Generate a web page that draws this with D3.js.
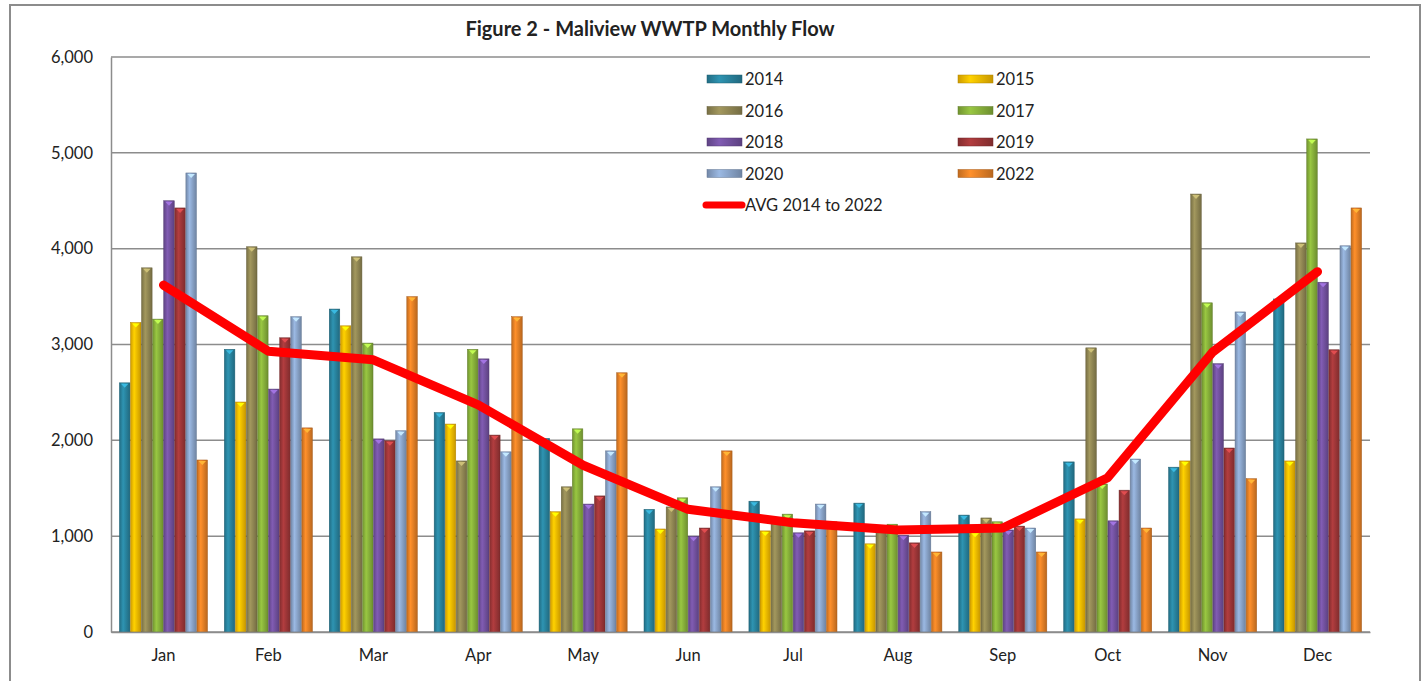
<!DOCTYPE html>
<html>
<head>
<meta charset="utf-8">
<script src="https://cdn.jsdelivr.net/npm/d3@7"></script>
<style>
  body { margin: 0; background: #fff; }
  svg text { font-family: Lato, "Open Sans", sans-serif; fill: #222; }
</style>
</head>
<body>
<div id="chart"></div>
<script>
// data
var months = ["Jan", "Feb", "Mar", "Apr", "May", "Jun", "Jul", "Aug", "Sep", "Oct", "Nov", "Dec"];
var years = ["2014", "2015", "2016", "2017", "2018", "2019", "2020", "2022"];
var flow2014 = [2600, 2950, 3370, 2290, 2020, 1280, 1365, 1345, 1220, 1775, 1720, 3475];
var flow2015 = [3230, 2400, 3195, 2170, 1255, 1075, 1055, 920, 1040, 1180, 1785, 1785];
var flow2016 = [3800, 4020, 3915, 1785, 1515, 1305, 1180, 1100, 1190, 2965, 4570, 4060];
var flow2017 = [3265, 3300, 3015, 2950, 2120, 1400, 1230, 1125, 1150, 1545, 3435, 5145];
var flow2018 = [4500, 2535, 2015, 2850, 1335, 1000, 1035, 1010, 1065, 1160, 2800, 3650];
var flow2019 = [4425, 3070, 1995, 2055, 1420, 1085, 1055, 930, 1105, 1480, 1920, 2945];
var flow2020 = [4790, 3290, 2100, 1880, 1890, 1515, 1335, 1255, 1085, 1805, 3340, 4030];
var flow2022 = [1795, 2130, 3500, 3290, 2705, 1890, 1150, 835, 835, 1085, 1600, 4425];
var avgFlow = [3620, 2930, 2840, 2370, 1740, 1280, 1140, 1065, 1085, 1610, 2920, 3760];
var yTicks = [0, 1000, 2000, 3000, 4000, 5000, 6000];

var series = [flow2014, flow2015, flow2016, flow2017, flow2018, flow2019, flow2020, flow2022];
var colors = ["#2A87A3", "#FFC000", "#958B56", "#8CB63C", "#7654A4", "#A3383A", "#8EA9D0", "#EE8427"];

var W = 1426, H = 681;
var margin = {top: 57, right: 56, bottom: 49, left: 111},
    width = W - margin.left - margin.right,
    height = H - margin.top - margin.bottom;

var svg = d3.select("#chart")
  .append("svg")
    .attr("width", W)
    .attr("height", H);

// outer frame of the chart
svg.append("path")
  .attr("d", "M10,681 V5 H1420 V681")
  .attr("fill", "none")
  .attr("stroke", "#8c8c8c")
  .attr("stroke-width", 2);

// gradients to give the bars a rounded look
var defs = svg.append("defs");
colors.forEach(function (c, i) {
  var g = defs.append("linearGradient")
    .attr("id", "grad" + i)
    .attr("x1", "0%").attr("x2", "100%").attr("y1", "0%").attr("y2", "0%");
  g.append("stop").attr("offset", "0%").attr("stop-color", d3.color(c).darker(0.6));
  g.append("stop").attr("offset", "35%").attr("stop-color", d3.color(c).brighter(0.25));
  g.append("stop").attr("offset", "100%").attr("stop-color", d3.color(c).darker(0.7));
});

var chart = svg.append("g")
  .attr("transform", "translate(" + margin.left + "," + margin.top + ")");

// title
svg.append("text")
  .attr("x", 650)
  .attr("y", 36)
  .attr("text-anchor", "middle")
  .style("font-size", "20px")
  .style("font-weight", "bold")
  .text("Figure 2 - Maliview WWTP Monthly Flow");

// scales
var x0 = d3.scaleBand()
  .domain(months)
  .range([0, width])
  .paddingInner(0.15)
  .paddingOuter(0.075);

var x1 = d3.scaleBand()
  .domain(years)
  .range([0, x0.bandwidth()])
  .padding(0.05);

var y = d3.scaleLinear()
  .domain([0, 6000])
  .range([height, 0]);

// gridlines
chart.append("g")
  .selectAll("line")
  .data(yTicks)
  .enter()
  .append("line")
    .attr("x1", 0)
    .attr("x2", width)
    .attr("y1", function (d) { return y(d); })
    .attr("y2", function (d) { return y(d); })
    .attr("stroke", "#8c8c8c")
    .attr("stroke-width", 1.5);

// Y axis
var yAxis = chart.append("g")
  .call(d3.axisLeft(y).tickValues(yTicks).tickSize(0).tickPadding(18).tickFormat(d3.format(",")));
yAxis.select(".domain").attr("stroke", "#8c8c8c").attr("stroke-width", 1.5);
yAxis.selectAll("text").style("font-size", "16.5px").attr("fill", "#222");

// bars
var groups = chart.append("g")
  .selectAll("g")
  .data(months)
  .enter()
  .append("g")
    .attr("transform", function (d) { return "translate(" + x0(d) + ",0)"; });

years.forEach(function (yr, i) {
  var bw = x1.bandwidth();
  groups.append("rect")
    .attr("x", x1(yr))
    .attr("y", function (d, m) { return y(series[i][m]); })
    .attr("width", bw)
    .attr("height", function (d, m) { return height - y(series[i][m]); })
    .attr("fill", "url(#grad" + i + ")")
    .attr("stroke", d3.color(colors[i]).darker(1))
    .attr("stroke-width", 0.5);
  // small bevel on top of each bar
  groups.append("path")
    .attr("d", function (d, m) {
      var top = y(series[i][m]), l = x1(yr);
      return "M" + (l + 1.5) + "," + (top + 1) + "H" + (l + bw - 1.5) + "L" + (l + bw / 2) + "," + (top + 5) + "Z";
    })
    .attr("fill", d3.color(colors[i]).brighter(0.9));
});

// X axis
var xAxis = chart.append("g")
  .attr("transform", "translate(0," + height + ")")
  .call(d3.axisBottom(x0).tickSize(0).tickPadding(17));
xAxis.select(".domain").attr("stroke", "#8c8c8c").attr("stroke-width", 1.5);
xAxis.selectAll("text").style("font-size", "16.5px").attr("fill", "#222");

// average line
var line = d3.line()
  .x(function (d, i) { return x0(months[i]) + x0.bandwidth() / 2; })
  .y(function (d) { return y(d); });

chart.append("path")
  .datum(avgFlow)
  .attr("d", line)
  .attr("fill", "none")
  .attr("stroke", "#FF0000")
  .attr("stroke-width", 9)
  .attr("stroke-linejoin", "round")
  .attr("stroke-linecap", "round");

// legend
var legend = svg.append("g");
years.forEach(function (yr, i) {
  var lx = (i % 2 === 0) ? 707 : 958,
      ly = 79 + Math.floor(i / 2) * 31.5;
  legend.append("rect")
    .attr("x", lx).attr("y", ly - 4)
    .attr("width", 35).attr("height", 8)
    .attr("fill", "url(#grad" + i + ")")
    .attr("stroke", d3.color(colors[i]).darker(1))
    .attr("stroke-width", 0.5);
  legend.append("text")
    .attr("x", lx + 38).attr("y", ly + 6)
    .style("font-size", "16.5px")
    .text(yr);
});
legend.append("line")
  .attr("x1", 706).attr("x2", 742)
  .attr("y1", 205).attr("y2", 205)
  .attr("stroke", "#FF0000")
  .attr("stroke-width", 7)
  .attr("stroke-linecap", "round");
legend.append("text")
  .attr("x", 745).attr("y", 211)
  .style("font-size", "16.5px")
  .text("AVG 2014 to 2022");
</script>
</body>
</html>
